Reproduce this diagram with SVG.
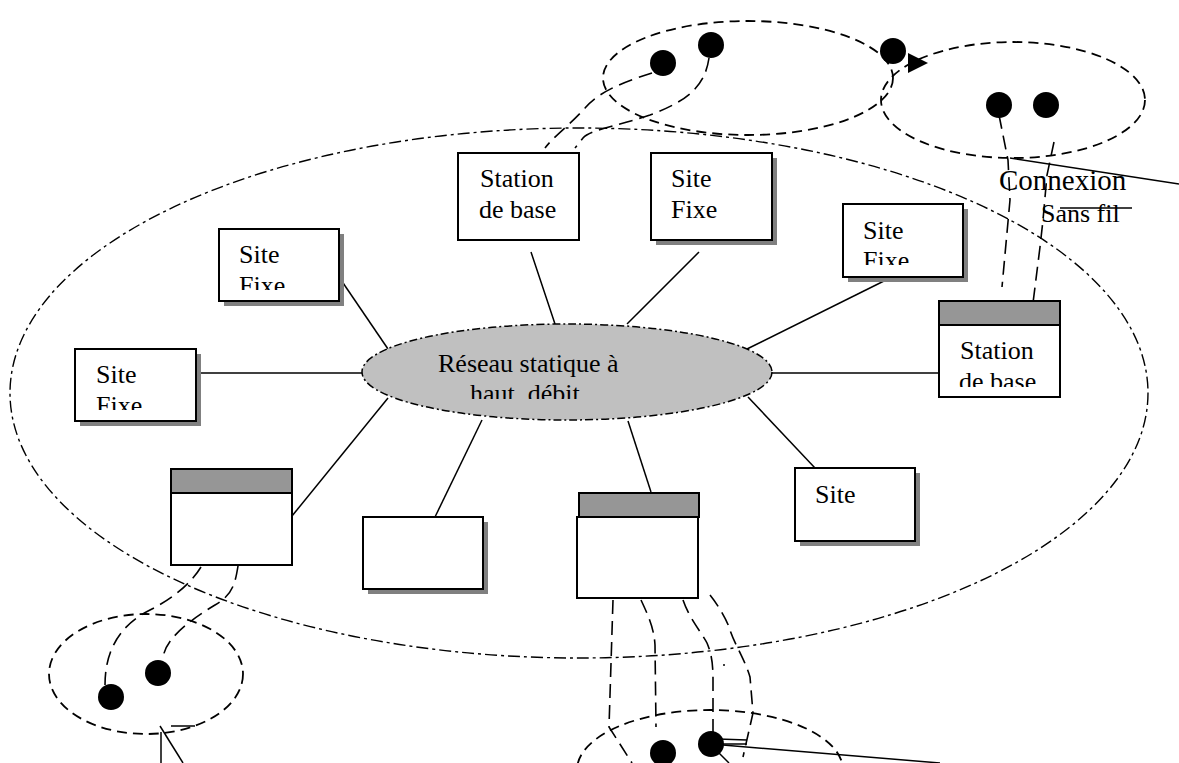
<svg xmlns="http://www.w3.org/2000/svg" width="1179" height="763" viewBox="0 0 1179 763">
<style>
text{font-family:"Liberation Serif","Times New Roman",serif;font-size:26px;fill:#000}
.box{fill:#fff;stroke:#000;stroke-width:2}
.sh{fill:#808080}
.hd{fill:#969696;stroke:#000;stroke-width:2}
.ln{stroke:#000;stroke-width:1.5;fill:none}
.big{fill:none;stroke:#000;stroke-width:1.4;stroke-dasharray:12 4 3 4}
.de{fill:none;stroke:#000;stroke-width:1.8;stroke-dasharray:10 6}
.lk{fill:none;stroke:#000;stroke-width:1.6;stroke-dasharray:14 7}
.dot{fill:#000}
</style>
<defs>
<clipPath id="c1"><rect x="219" y="229" width="120" height="61"/></clipPath>
<clipPath id="c2"><rect x="75" y="349" width="121" height="61"/></clipPath>
<clipPath id="c3"><rect x="843" y="204" width="120" height="61"/></clipPath>
<clipPath id="c4"><rect x="939" y="325" width="121" height="62"/></clipPath>
<clipPath id="c5"><rect x="363" y="324" width="409" height="75"/></clipPath>
</defs>
<rect width="1179" height="763" fill="#fff"/>

<g id="outer-ellipses">
<ellipse class="big" cx="579" cy="393" rx="569" ry="265"/>
<ellipse class="de" cx="748" cy="78" rx="145" ry="57"/>
<ellipse class="de" cx="1013" cy="100" rx="132" ry="58"/>
<ellipse class="de" cx="146" cy="674" rx="97" ry="60"/>
<ellipse class="de" cx="710" cy="770" rx="133" ry="60"/>
</g>

<g id="connectors">
<line class="ln" x1="339" y1="277" x2="388" y2="349"/>
<line class="ln" x1="196" y1="373" x2="363" y2="373"/>
<line class="ln" x1="531" y1="252" x2="555" y2="324"/>
<line class="ln" x1="699" y1="252" x2="627" y2="324"/>
<line class="ln" x1="892" y1="277" x2="747" y2="349"/>
<line class="ln" x1="772" y1="373" x2="939" y2="373"/>
<line class="ln" x1="748" y1="397" x2="815" y2="468"/>
<line class="ln" x1="628" y1="421" x2="651" y2="492"/>
<line class="ln" x1="482" y1="420" x2="435" y2="517"/>
<line class="ln" x1="388" y1="398" x2="292" y2="516"/>
<!-- wireless dashed links -->
<path class="lk" d="M652,73 C630,80 600,90 585,108 C570,125 555,135 545,148"/>
<path class="lk" d="M709,58 C705,85 690,100 650,115 C610,128 590,130 583,138 L575,148"/>
<path class="lk" d="M999,115 L1008,160 L1010,200 L1002,287"/>
<path class="lk" d="M1054,142 L1047,175 L1043,220 L1040,247 L1033,303"/>
<path class="lk" d="M201,567 C190,585 170,600 150,610 C120,625 105,650 105,685"/>
<path class="lk" d="M238,566 C235,585 232,595 215,605 C190,620 163,640 163,660"/>
<path class="lk" d="M613,600 L609,727 L632,763"/>
<path class="lk" d="M641,600 C648,615 654,628 655,645 L656,727"/>
<path class="lk" d="M683,600 C690,620 702,633 707,643 C712,655 713,665 713,680 L713,733"/>
<path class="lk" d="M710,595 C718,605 727,620 730,630 C735,645 745,660 750,677 L753,713 L743,757"/>
<!-- solid marks -->
<line class="ln" x1="1010" y1="158" x2="1179" y2="184"/>
<line class="ln" x1="1060" y1="208" x2="1132" y2="208"/>
<line class="ln" x1="161" y1="732" x2="161" y2="763"/>
<line class="ln" x1="160" y1="726" x2="183" y2="763"/>
<line class="ln" x1="171" y1="726" x2="195" y2="726"/>
<line class="ln" x1="711" y1="744" x2="940" y2="763"/>
<line class="ln" x1="718" y1="739" x2="747" y2="740"/>
<line class="ln" x1="718" y1="744" x2="747" y2="744"/>
<line class="ln" x1="716" y1="750" x2="729" y2="763"/>
<polygon points="908,53 908,73 928,63" fill="#000"/>
<circle cx="724" cy="665" r="1" fill="#000"/>
</g>

<g id="dots">
<circle class="dot" cx="663" cy="63" r="13"/>
<circle class="dot" cx="711" cy="45" r="13"/>
<circle class="dot" cx="893" cy="51" r="13"/>
<circle class="dot" cx="999" cy="105" r="13"/>
<circle class="dot" cx="1046" cy="105" r="13"/>
<circle class="dot" cx="111" cy="697" r="13"/>
<circle class="dot" cx="158" cy="673" r="13"/>
<circle class="dot" cx="663" cy="753" r="13"/>
<circle class="dot" cx="711" cy="744" r="13"/>
</g>

<g id="core">
<ellipse cx="567" cy="372" rx="205" ry="48" fill="#c0c0c0" stroke="#000" stroke-width="1.5" stroke-dasharray="8 3 2 3"/>
<g clip-path="url(#c5)">
<text x="438" y="372">Réseau statique à</text>
<text x="470" y="402" xml:space="preserve">haut  débit</text>
</g>
</g>

<g id="station-top">
<rect class="box" x="458" y="153" width="121" height="87"/>
<text x="480" y="187">Station</text>
<text x="479" y="218">de base</text>
</g>

<g id="site-fixe-top">
<rect class="sh" x="656" y="158" width="121" height="87"/>
<rect class="box" x="651" y="153" width="121" height="87"/>
<text x="671" y="187">Site</text>
<text x="671" y="218">Fixe</text>
</g>

<g id="site-fixe-right">
<rect class="sh" x="848" y="209" width="120" height="73"/>
<rect class="box" x="843" y="204" width="120" height="73"/>
<g clip-path="url(#c3)">
<text x="863" y="239">Site</text>
<text x="863" y="269">Fixe</text>
</g>
</g>

<g id="station-right">
<rect class="box" x="939" y="325" width="121" height="72"/>
<rect class="hd" x="939" y="301" width="121" height="24"/>
<g clip-path="url(#c4)">
<text x="960" y="359">Station</text>
<text x="959" y="390">de base</text>
</g>
</g>

<g id="site-fixe-left-top">
<rect class="sh" x="224" y="234" width="120" height="72"/>
<rect class="box" x="219" y="229" width="120" height="72"/>
<g clip-path="url(#c1)">
<text x="239" y="263">Site</text>
<text x="239" y="294">Fixe</text>
</g>
</g>

<g id="site-fixe-left">
<rect class="sh" x="80" y="354" width="121" height="72"/>
<rect class="box" x="75" y="349" width="121" height="72"/>
<g clip-path="url(#c2)">
<text x="96" y="383">Site</text>
<text x="96" y="414">Fixe</text>
</g>
</g>

<g id="station-left-bottom">
<rect class="box" x="171" y="493" width="121" height="72"/>
<rect class="hd" x="171" y="469" width="121" height="24"/>
</g>

<g id="plain-box">
<rect class="sh" x="368" y="522" width="120" height="72"/>
<rect class="box" x="363" y="517" width="120" height="72"/>
</g>

<g id="station-bottom">
<rect class="box" x="577" y="517" width="121" height="81"/>
<rect class="hd" x="579" y="493" width="120" height="24"/>
</g>

<g id="site-right-bottom">
<rect class="sh" x="800" y="473" width="120" height="73"/>
<rect class="box" x="795" y="468" width="120" height="73"/>
<text x="815" y="503">Site</text>
</g>

<g id="label">
<text x="999" y="190" style="font-size:29px">Connexion</text>
<text x="1041" y="222">Sans fil</text>
</g>
</svg>
